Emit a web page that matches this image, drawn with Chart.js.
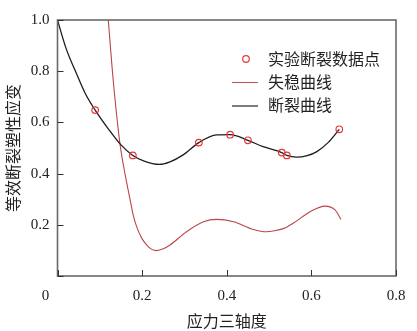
<!DOCTYPE html>
<html>
<head>
<meta charset="utf-8">
<script src="https://cdn.jsdelivr.net/npm/chart.js@4/dist/chart.umd.min.js"></script>
<style>
  html, body { margin: 0; padding: 0; background: #fff; }
  #wrap { width: 417px; height: 331px; }
</style>
</head>
<body>
<div id="wrap"><canvas id="grafico" width="417" height="331"></canvas></div>
<script>
// datos experimentales (应力三轴度, 等效断裂塑性应变)
const puntosX = [0.089, 0.178, 0.334, 0.408, 0.450, 0.530, 0.542, 0.666];
const puntosY = [0.648, 0.471, 0.521, 0.552, 0.530, 0.482, 0.471, 0.573];

// curva de fractura
const fracturaX = [0.0, 0.020, 0.045, 0.065, 0.089, 0.120, 0.150, 0.178, 0.205, 0.240, 0.266, 0.297, 0.334, 0.376, 0.408, 0.450, 0.486, 0.530, 0.542, 0.565, 0.590, 0.613, 0.640, 0.666];
const fracturaY = [1.0, 0.890, 0.790, 0.715, 0.648, 0.575, 0.512, 0.471, 0.449, 0.436, 0.446, 0.473, 0.521, 0.551, 0.552, 0.530, 0.505, 0.482, 0.471, 0.464, 0.470, 0.486, 0.522, 0.573];

// curva de inestabilidad
const inestX = [0.120, 0.132, 0.148, 0.160, 0.171, 0.179, 0.187, 0.200, 0.211, 0.222, 0.234, 0.250, 0.266, 0.305, 0.345, 0.376, 0.416, 0.463, 0.494, 0.510, 0.535, 0.557, 0.597, 0.632, 0.656, 0.670];
const inestY = [1.0, 0.759, 0.512, 0.395, 0.303, 0.238, 0.193, 0.145, 0.121, 0.105, 0.099, 0.106, 0.121, 0.173, 0.212, 0.221, 0.212, 0.182, 0.173, 0.176, 0.186, 0.206, 0.251, 0.273, 0.258, 0.221];

const ticksX = [0, 0.2, 0.4, 0.6, 0.8];
const ticksY = [0, 0.2, 0.4, 0.6, 0.8, 1.0];

const leyenda = ['实验断裂数据点', '失稳曲线', '断裂曲线'];

const aPuntos = (xs, ys) => xs.map((x, i) => ({ x: x, y: ys[i] }));

const fuenteNum = '15px "Liberation Serif", "DejaVu Serif", serif';
const fuenteCJK = '16px "Noto Sans CJK SC", sans-serif';

// marco, marcas hacia adentro, el "0" del origen y la leyenda
const marcoPlugin = {
    id: 'marco',
    afterDraw(c) {
        const ctx = c.ctx;
        const a = c.chartArea;
        const sx = c.scales.x, sy = c.scales.y;
        ctx.save();
        ctx.strokeStyle = '#6a6a6a';
        ctx.lineWidth = 1.6;
        ctx.strokeRect(a.left, a.top, a.right - a.left, a.bottom - a.top);

        ctx.strokeStyle = '#333';
        ctx.lineWidth = 1;
        ticksX.forEach(v => {
            const px = Math.round(sx.getPixelForValue(v)) + 0.5;
            ctx.beginPath();
            ctx.moveTo(px, a.bottom);
            ctx.lineTo(px, a.bottom - 6);
            ctx.stroke();
        });
        ticksY.forEach(v => {
            const py = Math.round(sy.getPixelForValue(v)) + 0.5;
            ctx.beginPath();
            ctx.moveTo(a.left, py);
            ctx.lineTo(a.left + 6, py);
            ctx.stroke();
        });

        ctx.fillStyle = '#222';
        ctx.font = fuenteNum;
        ctx.textAlign = 'center';
        ctx.textBaseline = 'middle';
        ctx.fillText('0', a.left - 12, a.bottom + 20);

        // leyenda
        ctx.font = fuenteCJK;
        ctx.textAlign = 'left';
        ctx.fillStyle = '#222';
        ctx.strokeStyle = '#e8383a';
        ctx.lineWidth = 1.2;
        ctx.beginPath();
        ctx.arc(246, 59, 3.3, 0, Math.PI * 2);
        ctx.stroke();
        ctx.fillText(leyenda[0], 268, 59);

        ctx.strokeStyle = '#c0585c';
        ctx.lineWidth = 1.1;
        ctx.beginPath();
        ctx.moveTo(232, 82.5);
        ctx.lineTo(258, 82.5);
        ctx.stroke();
        ctx.fillText(leyenda[1], 268, 82);

        ctx.strokeStyle = '#333';
        ctx.lineWidth = 1.3;
        ctx.beginPath();
        ctx.moveTo(232, 106);
        ctx.lineTo(258, 106);
        ctx.stroke();
        ctx.fillText(leyenda[2], 268, 105);
        ctx.restore();
    }
};

document.addEventListener('DOMContentLoaded', () => {
    const ctx = document.getElementById('grafico').getContext('2d');
    new Chart(ctx, {
        type: 'scatter',
        data: {
            datasets: [
                {
                    label: leyenda[0],
                    data: aPuntos(puntosX, puntosY),
                    showLine: false,
                    pointStyle: 'circle',
                    pointRadius: 3.3,
                    pointBorderWidth: 1.2,
                    pointBorderColor: '#e8383a',
                    pointBackgroundColor: 'rgba(0,0,0,0)',
                    order: 0
                },
                {
                    label: leyenda[1],
                    data: aPuntos(inestX, inestY),
                    showLine: true,
                    borderColor: '#b9464b',
                    borderWidth: 1.1,
                    pointRadius: 0,
                    cubicInterpolationMode: 'monotone',
                    order: 2
                },
                {
                    label: leyenda[2],
                    data: aPuntos(fracturaX, fracturaY),
                    showLine: true,
                    borderColor: '#1e1e1e',
                    borderWidth: 1.3,
                    pointRadius: 0,
                    cubicInterpolationMode: 'monotone',
                    order: 1
                }
            ]
        },
        options: {
            responsive: false,
            animation: false,
            layout: { padding: { top: 20, right: 21, left: 0, bottom: 0 } },
            plugins: {
                legend: { display: false },
                tooltip: { enabled: false }
            },
            scales: {
                x: {
                    type: 'linear',
                    min: 0,
                    max: 0.8,
                    afterBuildTicks: s => { s.ticks = ticksX.map(v => ({ value: v })); },
                    afterFit: s => { s.height = 55; },
                    grid: { display: false },
                    border: { display: false },
                    ticks: {
                        padding: 3,
                        color: '#222',
                        font: { family: '"Liberation Serif", serif', size: 15 },
                        callback: v => (v === 0 ? '' : v.toFixed(1))
                    },
                    title: {
                        display: true,
                        text: '应力三轴度',
                        color: '#222',
                        font: { family: '"Noto Sans CJK SC", sans-serif', size: 16 },
                        padding: { top: 0, bottom: 0 }
                    }
                },
                y: {
                    type: 'linear',
                    min: 0,
                    max: 1.0,
                    afterBuildTicks: s => { s.ticks = ticksY.map(v => ({ value: v })); },
                    afterFit: s => { s.width = 57.5; },
                    grid: { display: false },
                    border: { display: false },
                    ticks: {
                        padding: 0,
                        color: '#222',
                        font: { family: '"Liberation Serif", serif', size: 15 },
                        callback: v => (v === 0 ? '' : v.toFixed(1))
                    },
                    title: {
                        display: true,
                        text: '等效断裂塑性应变',
                        color: '#222',
                        font: { family: '"Noto Sans CJK SC", sans-serif', size: 16 },
                        padding: { top: 3, bottom: 0 }
                    }
                }
            }
        },
        plugins: [marcoPlugin]
    });
});
</script>
</body>
</html>
